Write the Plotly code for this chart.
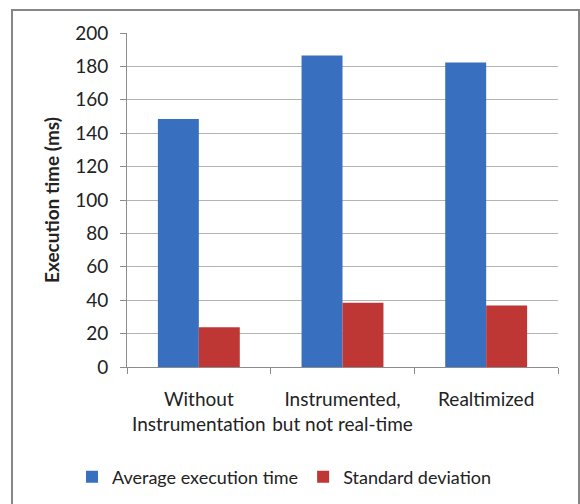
import plotly.graph_objects as go

categories = ["Without<br>Instrumentation", "Instrumented,<br>but not real-time", "Realtimized"]
avg_exec = [148.5, 186.5, 182.3]
std_dev = [23.8, 38.5, 36.9]
series_names = ["Average execution time", "Standard deviation"]
y_ticks = [0, 20, 40, 60, 80, 100, 120, 140, 160, 180, 200]

W, H = 580, 504
L, R, T, B = 127, 22, 33, 137
pw, ph = W - L - R, H - T - B

def px_x(x):
    return (x - L) / pw

def px_y(y):
    return (H - B - y) / ph

font = "Lato, 'Open Sans', sans-serif"

fig = go.Figure()
fig.add_trace(go.Bar(x=categories, y=avg_exec, name=series_names[0],
                     marker=dict(color="#3870BF", line=dict(width=0))))
fig.add_trace(go.Bar(x=categories, y=std_dev, name=series_names[1],
                     marker=dict(color="#BE3735", line=dict(width=0))))

fig.update_layout(
    width=W, height=H,
    margin=dict(l=L, r=R, t=T, b=B, autoexpand=False),
    paper_bgcolor="white", plot_bgcolor="white",
    barmode="group", bargap=0.43, bargroupgap=0,
    font=dict(family=font, size=19, color="#222222"),
    showlegend=True,
    legend=dict(orientation="h", xref="container", x=72 / W, xanchor="left",
                yref="container", y=(H - 477) / H, yanchor="middle",
                font=dict(size=18, family=font, color="#222222"),
                itemwidth=30, traceorder="normal"),
    xaxis=dict(type="category", showline=True, linecolor="#8c8c8c", linewidth=1,
               ticks="outside", tickson="boundaries", ticklen=6, tickcolor="#8c8c8c",
               tickfont=dict(size=19, family=font), showgrid=False,
               tickangle=0, automargin=False, ticklabelstandoff=15),
    yaxis=dict(range=[0, 200], tickvals=y_ticks, showline=True, linecolor="#8c8c8c",
               linewidth=1, ticks="outside", ticklen=6, tickcolor="#8c8c8c",
               showgrid=True, gridcolor="#b4b4b4", gridwidth=1, zeroline=False,
               tickfont=dict(size=19, family=font), ticklabelstandoff=8, automargin=False,
               title=dict(text="<b>Execution time (ms)</b>", font=dict(size=19, family=font),
                          standoff=10)),
)

fig.add_shape(type="rect", xref="paper", yref="paper",
              x0=px_x(12), x1=px_x(579), y0=px_y(520), y1=px_y(10),
              line=dict(color="#868686", width=2), fillcolor="rgba(0,0,0,0)", layer="above")

fig.write_html("out.html")
